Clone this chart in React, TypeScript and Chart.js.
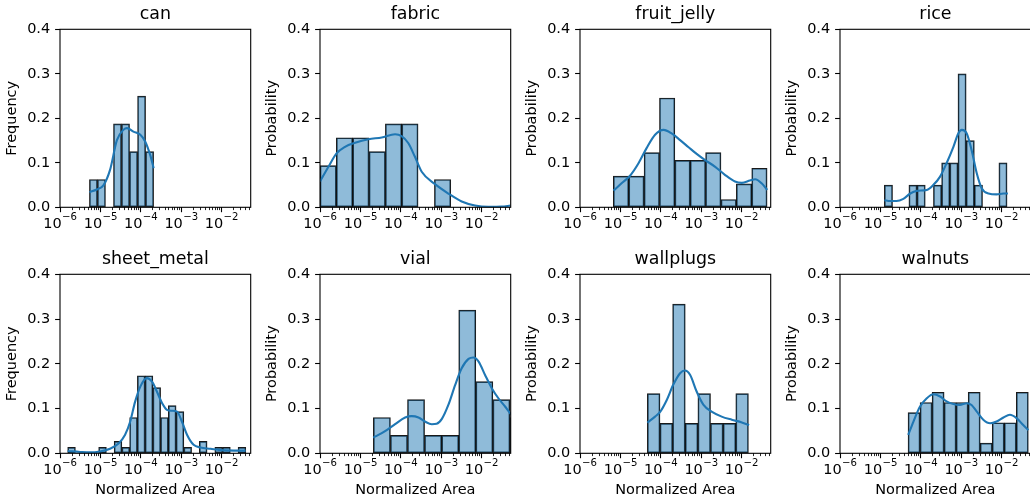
import React, { useEffect, useRef } from 'react';
import { Chart, registerables } from 'chart.js';

Chart.register(...registerables);

const FONT = "'DejaVu Sans', sans-serif";

// ---- axis values ----
const X_MIN_EXP = -6;
const X_MAX_EXP = -1.275;
const majorExps = [-6, -5, -4, -3, -2];
const xTickBase = '10';
const xTickExponents = ['−6', '−5', '−4', '−3', '−2'];
const minorMultipliers = [2, 3, 4, 5, 6, 7, 8, 9];
const yTicks = [0, 0.1, 0.2, 0.3, 0.4];
const xAxisTitle = 'Normalized Area';

// ---- can ----
const canBinStart = -5.271;
const canBinWidth = 0.1988;
const canHeights = [0.0625, 0.0625, 0, 0.1875, 0.1875, 0.125, 0.25, 0.125];
const canKdeX = [-5.27, -5.09, -4.92, -4.76, -4.59, -4.43, -4.34, -4.18, -4.01, -3.89, -3.76, -3.68];
const canKdeY = [0.034, 0.04, 0.05, 0.084, 0.151, 0.174, 0.178, 0.17, 0.163, 0.148, 0.116, 0.088];

// ---- fabric ----
const fabricBinStart = -6.0;
const fabricBinWidth = 0.405;
const fabricHeights = [0.09375, 0.15625, 0.15625, 0.125, 0.1875, 0.1875, 0, 0.0625];
const fabricKdeX = [-6, -5.79, -5.59, -5.38, -5.13, -4.8, -4.47, -4.14, -3.98, -3.81, -3.65, -3.48, -3.15, -2.82, -2.49, -2.16, -1.83, -1.5, -1.28];
const fabricKdeY = [0.058, 0.091, 0.121, 0.136, 0.145, 0.153, 0.157, 0.164, 0.16, 0.144, 0.114, 0.08, 0.052, 0.031, 0.013, 0.004, 0.001, 0.0015, 0.004];

// ---- fruit_jelly ----
const fruitBinStart = -5.174;
const fruitBinWidth = 0.381;
const fruitHeights = [0.0702, 0.0702, 0.1228, 0.2456, 0.1053, 0.1053, 0.1228, 0.0175, 0.0526, 0.0877];
const fruitKdeX = [-5.17, -4.97, -4.76, -4.55, -4.35, -4.14, -3.93, -3.73, -3.52, -3.31, -3.11, -2.9, -2.65, -2.41, -2.16, -1.99, -1.79, -1.66, -1.5, -1.36];
const fruitKdeY = [0.0375, 0.054, 0.071, 0.099, 0.133, 0.163, 0.174, 0.166, 0.151, 0.135, 0.12, 0.106, 0.091, 0.073, 0.058, 0.055, 0.06, 0.063, 0.054, 0.039];

// ---- rice ----
const riceBinStart = -4.901;
const riceBinWidth = 0.2027;
const riceHeights = [0.05, 0, 0, 0.05, 0.05, 0, 0.05, 0.1, 0.1, 0.3, 0.15, 0.05, 0, 0, 0.1];
const riceKdeX = [-4.9, -4.76, -4.6, -4.43, -4.26, -4.1, -3.85, -3.69, -3.52, -3.36, -3.19, -3.07, -2.98, -2.86, -2.74, -2.61, -2.49, -2.32, -2.12, -1.95, -1.84];
const riceKdeY = [0.016, 0.014, 0.014, 0.019, 0.031, 0.037, 0.039, 0.05, 0.069, 0.099, 0.136, 0.166, 0.174, 0.166, 0.129, 0.076, 0.043, 0.031, 0.029, 0.031, 0.031];

// ---- sheet_metal ----
const sheetBinStart = -5.81;
const sheetBinWidth = 0.1919;
const sheetHeights = [0.0133, 0, 0, 0, 0.0133, 0, 0.0267, 0.0133, 0.08, 0.1733, 0.1733, 0.1467, 0.08, 0.1067, 0.0933, 0.0133, 0, 0.0267, 0, 0.0133, 0.0133, 0, 0.0133];
const sheetKdeX = [-5.81, -5.5, -5.26, -5.01, -4.76, -4.55, -4.39, -4.26, -4.14, -4.01, -3.85, -3.72, -3.6, -3.47, -3.35, -3.23, -3.1, -2.98, -2.85, -2.69, -2.52, -2.27, -2.03, -1.69, -1.4];
const sheetKdeY = [0.005, 0.003, 0.002, 0.004, 0.01, 0.022, 0.041, 0.071, 0.115, 0.149, 0.168, 0.16, 0.138, 0.112, 0.097, 0.095, 0.093, 0.071, 0.041, 0.019, 0.013, 0.01, 0.007, 0.006, 0.006];

// ---- vial ----
const vialBinStart = -4.678;
const vialBinWidth = 0.423;
const vialHeights = [0.08, 0.04, 0.12, 0.04, 0.04, 0.32, 0.16, 0.12, 0.08];
const vialKdeX = [-4.68, -4.47, -4.31, -4.14, -3.89, -3.73, -3.56, -3.4, -3.23, -3.11, -2.98, -2.82, -2.65, -2.49, -2.32, -2.2, -2.07, -1.91, -1.74, -1.58, -1.41, -1.28, -1.2];
const vialKdeY = [0.035, 0.045, 0.054, 0.065, 0.08, 0.083, 0.08, 0.071, 0.065, 0.066, 0.077, 0.108, 0.153, 0.19, 0.211, 0.214, 0.205, 0.175, 0.145, 0.123, 0.104, 0.089, 0.082];

// ---- wallplugs ----
const wallBinStart = -4.331;
const wallBinWidth = 0.313;
const wallHeights = [0.1333, 0.0667, 0.3333, 0.0667, 0.1333, 0.0667, 0.0667, 0.1333];
const wallKdeX = [-4.33, -4.14, -4.01, -3.85, -3.69, -3.52, -3.4, -3.27, -3.11, -2.94, -2.74, -2.49, -2.24, -1.99, -1.81];
const wallKdeY = [0.0686, 0.082, 0.093, 0.119, 0.153, 0.179, 0.185, 0.175, 0.138, 0.108, 0.093, 0.082, 0.075, 0.069, 0.063];

// ---- walnuts ----
const walnutBinStart = -4.314;
const walnutBinWidth = 0.298;
const walnutHeights = [0.0909, 0.1136, 0.1364, 0.1136, 0.1136, 0.1364, 0.0227, 0.0682, 0.0682, 0.1364];
const walnutKdeX = [-4.31, -4.18, -4.02, -3.85, -3.69, -3.52, -3.36, -3.19, -3.03, -2.86, -2.74, -2.61, -2.45, -2.28, -2.12, -1.95, -1.79, -1.62, -1.46, -1.33];
const walnutKdeY = [0.041, 0.071, 0.104, 0.123, 0.132, 0.127, 0.116, 0.11, 0.108, 0.112, 0.108, 0.093, 0.075, 0.067, 0.071, 0.08, 0.086, 0.078, 0.063, 0.052];

type PanelDef = {
  title: string;
  yLabel: string;
  binStart: number;
  binWidth: number;
  heights: number[];
  kdeX: number[];
  kdeY: number[];
  row: number;
  col: number;
};

const panels: PanelDef[] = [
  { title: 'can', yLabel: 'Frequency', binStart: canBinStart, binWidth: canBinWidth, heights: canHeights, kdeX: canKdeX, kdeY: canKdeY, row: 0, col: 0 },
  { title: 'fabric', yLabel: 'Probability', binStart: fabricBinStart, binWidth: fabricBinWidth, heights: fabricHeights, kdeX: fabricKdeX, kdeY: fabricKdeY, row: 0, col: 1 },
  { title: 'fruit_jelly', yLabel: 'Probability', binStart: fruitBinStart, binWidth: fruitBinWidth, heights: fruitHeights, kdeX: fruitKdeX, kdeY: fruitKdeY, row: 0, col: 2 },
  { title: 'rice', yLabel: 'Probability', binStart: riceBinStart, binWidth: riceBinWidth, heights: riceHeights, kdeX: riceKdeX, kdeY: riceKdeY, row: 0, col: 3 },
  { title: 'sheet_metal', yLabel: 'Frequency', binStart: sheetBinStart, binWidth: sheetBinWidth, heights: sheetHeights, kdeX: sheetKdeX, kdeY: sheetKdeY, row: 1, col: 0 },
  { title: 'vial', yLabel: 'Probability', binStart: vialBinStart, binWidth: vialBinWidth, heights: vialHeights, kdeX: vialKdeX, kdeY: vialKdeY, row: 1, col: 1 },
  { title: 'wallplugs', yLabel: 'Probability', binStart: wallBinStart, binWidth: wallBinWidth, heights: wallHeights, kdeX: wallKdeX, kdeY: wallKdeY, row: 1, col: 2 },
  { title: 'walnuts', yLabel: 'Probability', binStart: walnutBinStart, binWidth: walnutBinWidth, heights: walnutHeights, kdeX: walnutKdeX, kdeY: walnutKdeY, row: 1, col: 3 },
];

// ---- layout ----
const COL_STEP = 260;
const CANVAS_W = 259;
const Y_AXIS_W = 60;
const RIGHT_PAD = CANVAS_W - Y_AXIS_W - 190.7;
const ROW_TOP = [0, 245];
const ROW_H = [242, 254];
const X_AXIS_H = [34.7, 45.7];
const LABEL_FONT_PX = 14.5;
const TITLE_FONT_PX = 17.4;
const SUP_FONT_PX = 10.15;

const minorValues: number[] = [];
for (const e of majorExps) {
  for (const k of minorMultipliers) {
    const v = k * Math.pow(10, e);
    if (v < Math.pow(10, X_MAX_EXP)) minorValues.push(v);
  }
}

const framePlugin = {
  id: 'frame',
  afterDatasetsDraw(chart: any) {
    const { ctx, chartArea: a } = chart;
    ctx.save();
    ctx.strokeStyle = '#000';
    ctx.lineWidth = 1.1;
    ctx.strokeRect(a.left, a.top, a.right - a.left, a.bottom - a.top);
    ctx.restore();
  },
};

// draws "10" with a raised, smaller exponent under each major x tick (mathtext style)
const mathTickPlugin = {
  id: 'mathTicks',
  afterDraw(chart: any) {
    const s = chart.scales.x;
    const { ctx } = chart;
    const baseY = chart.chartArea.bottom + 21;
    ctx.save();
    ctx.fillStyle = '#000';
    ctx.textBaseline = 'alphabetic';
    ctx.textAlign = 'left';
    majorExps.forEach((e, i) => {
      const px = s.getPixelForValue(Math.pow(10, e));
      const sup = xTickExponents[i];
      ctx.font = `${LABEL_FONT_PX}px ${FONT}`;
      const w1 = ctx.measureText(xTickBase).width;
      ctx.font = `${SUP_FONT_PX}px ${FONT}`;
      const w2 = ctx.measureText(sup).width;
      const x0 = px - (w1 + w2) / 2;
      ctx.font = `${LABEL_FONT_PX}px ${FONT}`;
      ctx.fillText(xTickBase, x0, baseY);
      ctx.font = `${SUP_FONT_PX}px ${FONT}`;
      ctx.fillText(sup, x0 + w1 + 0.3, baseY - 7.9);
    });
    ctx.restore();
  },
};

function PanelChart({ p }: { p: PanelDef }) {
  const ref = useRef<HTMLCanvasElement | null>(null);
  const h = ROW_H[p.row];
  useEffect(() => {
    if (!ref.current) return;
    const bars = p.heights.map((v, i) => ({ x: Math.pow(10, p.binStart + (i + 0.5) * p.binWidth), y: v }));
    const kde = p.kdeX.map((e, i) => ({ x: Math.pow(10, e), y: p.kdeY[i] }));
    const xMin = Math.pow(10, X_MIN_EXP);
    const xMax = Math.pow(10, X_MAX_EXP);
    const chart = new Chart(ref.current, {
      type: 'bar',
      data: {
        datasets: [
          {
            type: 'bar',
            data: bars as any,
            backgroundColor: 'rgba(31,119,180,0.5)',
            borderColor: 'rgba(0,0,0,0.9)',
            borderWidth: 1,
            borderSkipped: false,
            barPercentage: 1,
            categoryPercentage: 1,
            order: 2,
            xAxisID: 'x',
            yAxisID: 'y',
          } as any,
          {
            type: 'line',
            data: kde as any,
            borderColor: '#1f77b4',
            borderWidth: 2.1,
            pointRadius: 0,
            cubicInterpolationMode: 'monotone',
            fill: false,
            order: 1,
            xAxisID: 'x',
            yAxisID: 'y',
          } as any,
        ],
      },
      options: {
        responsive: false,
        animation: false,
        devicePixelRatio: 1,
        events: [],
        layout: { padding: { left: 0, right: RIGHT_PAD, top: 0, bottom: 0 } },
        plugins: {
          legend: { display: false },
          tooltip: { enabled: false },
          title: {
            display: true,
            text: p.title,
            fullSize: false,
            color: '#000',
            font: { family: FONT, size: TITLE_FONT_PX, weight: 'normal' },
            padding: { top: 3.56, bottom: 4.86 },
          },
        },
        scales: {
          x: {
            type: 'logarithmic',
            position: 'bottom',
            min: xMin,
            max: xMax,
            offset: false,
            afterBuildTicks: (s: any) => {
              s.ticks = majorExps.map((e) => ({ value: Math.pow(10, e), major: true }));
            },
            afterFit: (s: any) => {
              s.height = X_AXIS_H[p.row];
            },
            grid: {
              display: true,
              offset: false,
              drawOnChartArea: false,
              drawTicks: true,
              tickLength: 4.9,
              tickWidth: 1.1,
              tickColor: '#000',
            },
            border: { display: false },
            ticks: {
              display: false,
              autoSkip: false,
              maxRotation: 0,
              minRotation: 0,
            },
            title: {
              display: p.row === 1,
              text: xAxisTitle,
              color: '#000',
              font: { family: FONT, size: LABEL_FONT_PX },
              padding: { top: 0, bottom: 0 },
            },
          } as any,
          xMinor: {
            type: 'logarithmic',
            position: 'bottom',
            weight: -1,
            min: xMin,
            max: xMax,
            offset: false,
            afterBuildTicks: (s: any) => {
              s.ticks = minorValues.map((v) => ({ value: v }));
            },
            afterFit: (s: any) => {
              s.height = 0;
            },
            grid: {
              display: true,
              offset: false,
              drawOnChartArea: false,
              drawTicks: true,
              tickLength: 2.8,
              tickWidth: 0.85,
              tickColor: '#000',
            },
            border: { display: false },
            ticks: { display: false },
          } as any,
          y: {
            type: 'linear',
            position: 'left',
            min: 0,
            max: 0.4,
            afterBuildTicks: (s: any) => {
              s.ticks = yTicks.map((v) => ({ value: v }));
            },
            afterFit: (s: any) => {
              s.width = Y_AXIS_W;
            },
            grid: {
              display: true,
              drawOnChartArea: false,
              drawTicks: true,
              tickLength: 4.9,
              tickWidth: 1.1,
              tickColor: '#000',
            },
            border: { display: false },
            ticks: {
              padding: 4.9,
              color: '#000',
              font: { family: FONT, size: LABEL_FONT_PX },
              callback: (v: any) => Number(v).toFixed(1),
            },
            title: {
              display: true,
              text: p.yLabel,
              color: '#000',
              font: { family: FONT, size: LABEL_FONT_PX },
              padding: { top: 3.7, bottom: 0 },
            },
          } as any,
        },
      },
      plugins: [framePlugin, mathTickPlugin],
    });
    return () => chart.destroy();
  }, [p]);

  return (
    <canvas
      ref={ref}
      width={CANVAS_W}
      height={h}
      style={{
        position: 'absolute',
        left: p.col * COL_STEP,
        top: ROW_TOP[p.row],
        width: CANVAS_W,
        height: h,
      }}
    />
  );
}

export default function App() {
  return (
    <div
      style={{
        position: 'absolute',
        left: 0,
        top: 0,
        width: 1030,
        height: 499,
        overflow: 'hidden',
        background: '#fff',
      }}
    >
      {panels.map((p) => (
        <PanelChart key={p.title} p={p} />
      ))}
    </div>
  );
}
